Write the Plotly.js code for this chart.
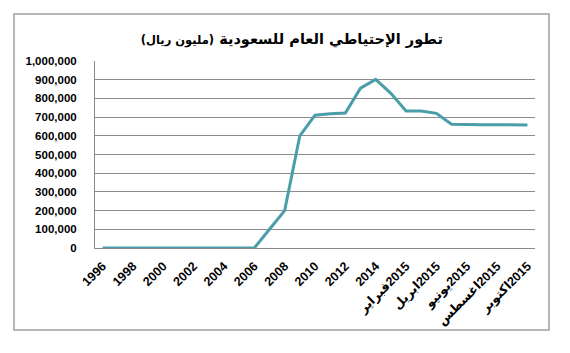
<!DOCTYPE html>
<html>
<head>
<meta charset="utf-8">
<script src="https://cdn.plot.ly/plotly-3.0.1.min.js"></script>
<style>html,body{margin:0;padding:0;background:#fff;}#chart{width:570px;height:353px;}</style>
</head>
<body>
<div id="chart"></div>
<script>
var LRM = "\u200E";
var categories = ["1996","1997","1998","1999","2000","2001","2002","2003","2004","2005","2006","2007","2008","2009","2010","2011","2012","2013","2014",
  "يناير" + LRM + "2015", "فبراير" + LRM + "2015", "مارس" + LRM + "2015", "ابريل" + LRM + "2015", "مايو" + LRM + "2015",
  "يونيو" + LRM + "2015", "يوليو" + LRM + "2015", "اغسطس" + LRM + "2015", "سبتمبر" + LRM + "2015", "اكتوبر" + LRM + "2015"];
var reserveValues = [0,0,0,0,0,0,0,0,0,0,0,100000,200000,600000,710000,718000,722000,855000,902000,
  827000,733000,733000,720000,662000,659000,659000,659000,659000,658000];
var tickLabels = categories.filter(function(c, i){ return i % 2 === 0; });
var titleMain = "تطور الإحتياطي العام للسعودية";
var titleUnit = "(مليون ريال)";

var trace = {
  x: categories, y: reserveValues, type: "scatter", mode: "lines",
  line: {color: "#4a9ea8", width: 3}, hoverinfo: "none"
};
var layout = {
  width: 570, height: 353,
  margin: {l: 95, r: 35, t: 61, b: 105},
  paper_bgcolor: "#ffffff", plot_bgcolor: "#ffffff",
  showlegend: false,
  font: {family: "Liberation Sans, DejaVu Sans, sans-serif", color: "#111"},
  title: {
    text: "\u202B" + titleMain + " <span style='font-size:11.5px'>" + titleUnit + "</span>\u202C",
    font: {family: "DejaVu Sans, sans-serif", size: 14.5, color: "#000", weight: "bold"},
    x: 0.512, xanchor: "center", y: 1 - 39/353, yanchor: "middle", yref: "container"
  },
  xaxis: {
    type: "category", range: [-0.5, 28.5],
    tickmode: "array", tickvals: tickLabels, ticktext: tickLabels,
    tickangle: -45, ticks: "", ticklabelstandoff: 5,
    tickfont: {size: 12.5, weight: "bold", color: "#000"},
    showgrid: false, zeroline: false,
    showline: true, linecolor: "#8a8a8a", linewidth: 1, fixedrange: true
  },
  yaxis: {
    range: [0, 1000000], dtick: 100000, tick0: 0, tickformat: ",d",
    ticks: "", ticklabelstandoff: 15,
    tickfont: {size: 11.5, weight: "bold", color: "#000"},
    showgrid: true, gridcolor: "#8c8c8c", gridwidth: 1,
    zeroline: false, showline: true, linecolor: "#8a8a8a", linewidth: 1, fixedrange: true
  },
  shapes: [{
    type: "rect", xref: "paper", yref: "paper",
    x0: (14-95)/440, x1: (549-95)/440, y0: (248-330)/187, y1: (248-14)/187,
    line: {color: "#a0a0a0", width: 1.5}, fillcolor: "rgba(0,0,0,0)", layer: "below"
  }]
};
Plotly.newPlot("chart", [trace], layout, {staticPlot: true, displayModeBar: false});
</script>
</body>
</html>
